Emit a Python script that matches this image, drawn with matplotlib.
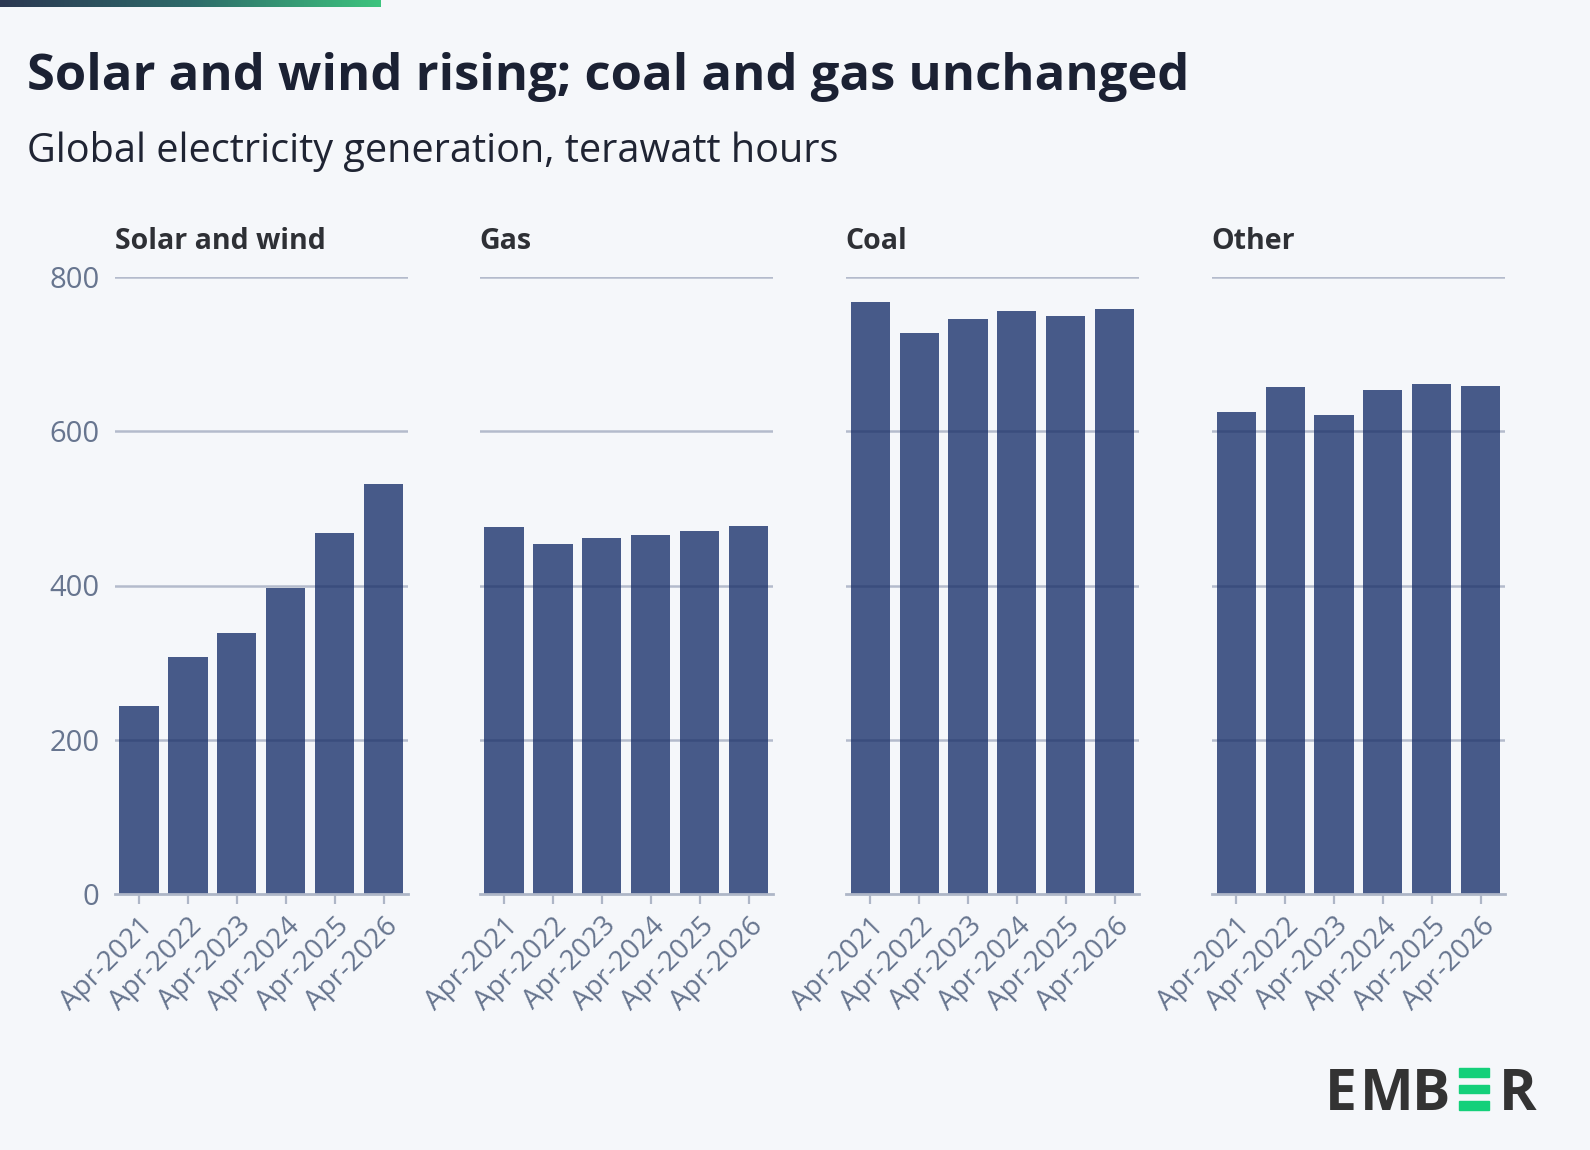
import numpy as np
import matplotlib.pyplot as plt
from matplotlib.colors import LinearSegmentedColormap
from matplotlib.patches import Rectangle

# data (TWh)
months = ['Apr-2021', 'Apr-2022', 'Apr-2023', 'Apr-2024', 'Apr-2025', 'Apr-2026']
panel_names = ['Solar and wind', 'Gas', 'Coal', 'Other']
solar_wind = [244, 307, 339, 397, 468, 531]
gas = [476, 454, 462, 466, 471, 477]
coal = [767, 728, 746, 756, 750, 758]
other = [625, 658, 621, 654, 661, 659]
y_ticks = [0, 200, 400, 600, 800]

series = [solar_wind, gas, coal, other]

W, H = 1590, 1150
bg = '#F5F7FA'
bar_col = '#475A89'
grid_col = '#1E3264'
tick_col = '#67758F'
font = 'Open Sans'

plt.rcParams['font.family'] = [font, 'DejaVu Sans']

fig = plt.figure(figsize=(W / 100, H / 100), dpi=100, facecolor=bg)

# gradient strip top-left
gax = fig.add_axes([0, 1 - 7 / H, 381 / W, 7 / H])
cmap = LinearSegmentedColormap.from_list('ember', ['#2B3852', '#2E6A6A', '#3DC47E'])
gax.imshow(np.linspace(0, 1, 256).reshape(1, -1), aspect='auto', cmap=cmap)
gax.axis('off')

# titles
fig.text(27 / W, 1 - 77 / H, 'Solar and wind rising; coal and gas unchanged',
         fontsize=36.5, fontweight='bold', color='#1B2133', va='center', ha='left')
fig.text(27 / W, 1 - 151 / H, 'Global electricity generation, terawatt hours',
         fontsize=28.5, color='#1F2433', va='center', ha='left')

lefts = [114.6, 479.6, 845.7, 1211.7]
ax_w = 293.5
ax_top, ax_bot = 277, 894

for i, (name, vals) in enumerate(zip(panel_names, series)):
    ax = fig.add_axes([lefts[i] / W, 1 - ax_bot / H, ax_w / W, (ax_bot - ax_top) / H])
    ax.set_facecolor(bg)
    x = np.arange(len(months))
    ax.bar(x, vals, width=0.8, color=bar_col, zorder=2)
    for yv in y_ticks[1:]:
        ax.axhline(yv, color=grid_col, alpha=0.3, lw=1.8, zorder=3)
    ax.set_xlim(-0.5, len(months) - 0.5)
    ax.set_ylim(0, 800)
    for s in ['top', 'right', 'left']:
        ax.spines[s].set_visible(False)
    ax.spines['bottom'].set_color('#AEB6C7')
    ax.spines['bottom'].set_linewidth(2)
    ax.spines['bottom'].set_zorder(4)
    ax.set_xticks(x)
    ax.set_xticklabels(months, rotation=45, ha='right', rotation_mode='anchor',
                       fontsize=20, color=tick_col)
    ax.tick_params(axis='x', length=7, width=1.6, color='#AEB6C7', pad=6)
    ax.set_yticks(y_ticks)
    if i == 0:
        ax.set_yticklabels([str(v) for v in y_ticks], fontsize=21, color=tick_col)
        ax.tick_params(axis='y', length=0, pad=11)
    else:
        ax.set_yticklabels([])
        ax.tick_params(axis='y', length=0)
    ax.text(0, 1.058, name, transform=ax.transAxes, fontsize=20.5, fontweight='bold',
            color='#2E3035', va='center', ha='left')

# EMBER logo
logo_col = '#333333'
cap_top, cap_bot = 1068.3, 1109.5
for letter, cx in [('E', 1341.3), ('M', 1386.7), ('B', 1431), ('R', 1517.5)]:
    fig.text(cx / W, 1 - cap_bot / H, letter, fontsize=41, fontweight='bold',
             color=logo_col, ha='center', va='baseline')
bar_h = (cap_bot - cap_top) / 5
for k in range(3):
    y0 = cap_top + 2 * k * bar_h
    fig.patches.append(Rectangle((1459.3 / W, 1 - (y0 + bar_h) / H), 30 / W, bar_h / H,
                                 transform=fig.transFigure, color='#14D07A'))

fig.savefig('out.png', dpi=100, facecolor=bg)
